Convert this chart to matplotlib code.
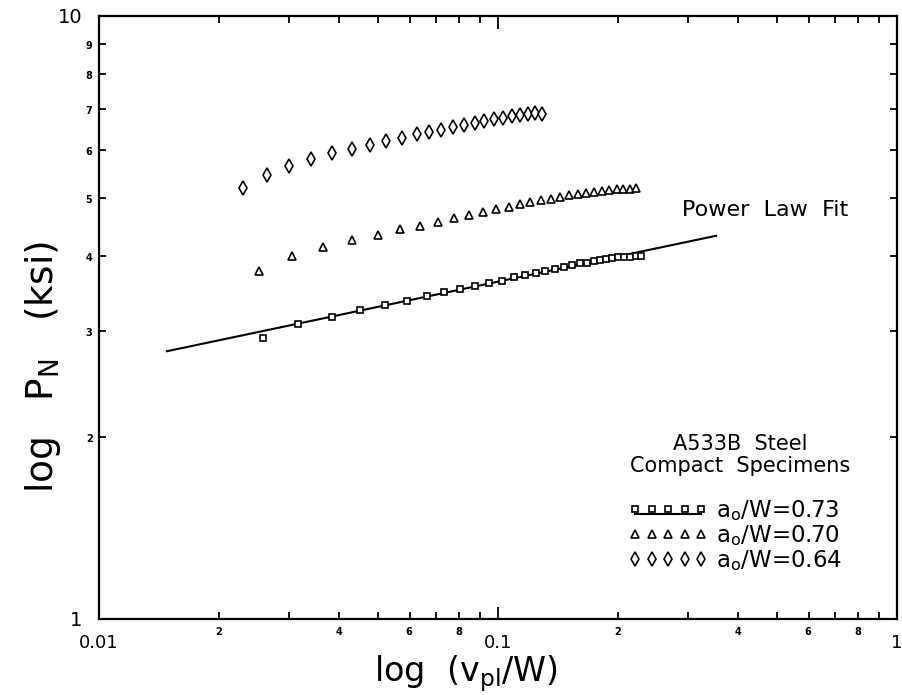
import numpy as np
import matplotlib
matplotlib.use("Agg")
import matplotlib.pyplot as plt
from matplotlib.ticker import LogLocator, FuncFormatter
from matplotlib.lines import Line2D
from matplotlib.legend_handler import HandlerLine2D, HandlerTuple

plt.rcParams['font.family'] = ['DejaVu Sans']
plt.rcParams['mathtext.default'] = 'regular'

# a0/W = 0.73 (squares)
x73 = [0.0257, 0.0315, 0.0383, 0.0452, 0.0522, 0.0591, 0.0664, 0.0733, 0.0804, 0.0877,
       0.0951, 0.1022, 0.1095, 0.1166, 0.1242, 0.1315, 0.1390, 0.1465, 0.1535, 0.1603,
       0.1673, 0.1738, 0.1801, 0.1865, 0.1928, 0.2002, 0.2069, 0.2142, 0.2214, 0.2282]
y73 = [2.92, 3.09, 3.17, 3.25, 3.32, 3.37, 3.43, 3.49, 3.53, 3.57,
       3.61, 3.64, 3.69, 3.72, 3.75, 3.78, 3.81, 3.84, 3.86, 3.89,
       3.90, 3.92, 3.94, 3.95, 3.97, 3.98, 3.98, 3.99, 4.00, 4.00]

# a0/W = 0.70 (triangles)
x70 = [0.0251, 0.0304, 0.0365, 0.0431, 0.0500, 0.0567, 0.0638, 0.0706, 0.0777, 0.0848,
       0.0919, 0.0991, 0.1066, 0.1135, 0.1206, 0.1278, 0.1354, 0.1430, 0.1507, 0.1582,
       0.1657, 0.1735, 0.1819, 0.1901, 0.1984, 0.2061, 0.2142, 0.2212]
y70 = [3.77, 4.00, 4.14, 4.25, 4.34, 4.43, 4.49, 4.55, 4.62, 4.67,
       4.73, 4.79, 4.83, 4.87, 4.92, 4.95, 4.98, 5.01, 5.04, 5.07,
       5.09, 5.11, 5.13, 5.15, 5.16, 5.17, 5.17, 5.18]

# a0/W = 0.64 (diamonds)
x64 = [0.0230, 0.0263, 0.0299, 0.0339, 0.0384, 0.0430, 0.0478, 0.0524, 0.0574, 0.0625,
       0.0672, 0.0721, 0.0773, 0.0822, 0.0874, 0.0924, 0.0977, 0.1027, 0.1082, 0.1135,
       0.1191, 0.1238, 0.1287]
y64 = [5.19, 5.44, 5.63, 5.79, 5.92, 6.02, 6.12, 6.21, 6.28, 6.36,
       6.42, 6.47, 6.54, 6.59, 6.64, 6.69, 6.74, 6.78, 6.83, 6.85,
       6.89, 6.91, 6.88]

# power law fit end points
fit_x = [0.0148, 0.352]
fit_y = [2.78, 4.32]

labels = [r'a$_o$/W=0.73', r'a$_o$/W=0.70', r'a$_o$/W=0.64']

fig = plt.figure(figsize=(9.02, 6.95), dpi=100)
ax = fig.add_axes([0.1098, 0.1094, 0.8847, 0.8676])

ax.plot(fit_x, fit_y, color='black', lw=1.5)
ms = dict(linestyle='none', markerfacecolor='white', markeredgecolor='black', markeredgewidth=1.2)
ax.plot(x73, y73, marker='s', markersize=5, **ms)
ax.plot(x70, y70, marker='^', markersize=5.5, **ms)
ax.plot(x64, y64, marker='d', markersize=7.5, **ms)

ax.set_xscale('log')
ax.set_yscale('log')
ax.set_xlim(0.01, 1)
ax.set_ylim(1, 10)

for s in ax.spines.values():
    s.set_linewidth(1.6)

ax.xaxis.set_major_locator(LogLocator(base=10))
ax.yaxis.set_major_locator(LogLocator(base=10))
ax.xaxis.set_minor_locator(LogLocator(base=10, subs=np.arange(2, 10)))
ax.yaxis.set_minor_locator(LogLocator(base=10, subs=np.arange(2, 10)))


def major_fmt(v, pos):
    return '%g' % v


def minor_fmt_x(v, pos):
    m = int(round(v / 10 ** np.floor(np.log10(v) + 1e-9)))
    return r'$\mathbf{%d}$' % m if m in (2, 4, 6, 8) else ''


def minor_fmt_y(v, pos):
    m = int(round(v / 10 ** np.floor(np.log10(v) + 1e-9)))
    return r'$\mathbf{%d}$' % m


ax.xaxis.set_major_formatter(FuncFormatter(major_fmt))
ax.yaxis.set_major_formatter(FuncFormatter(major_fmt))
ax.xaxis.set_minor_formatter(FuncFormatter(minor_fmt_x))
ax.yaxis.set_minor_formatter(FuncFormatter(minor_fmt_y))

ax.tick_params(which='both', direction='in', top=True, right=True, width=1.3)
ax.tick_params(which='major', length=9, labelsize=14)
ax.tick_params(axis='x', which='major', pad=11, labelsize=13)
ax.tick_params(axis='y', which='major', pad=12)
ax.tick_params(which='minor', length=5, labelsize=7, pad=4)

ax.set_xlabel(r'log  (v$_{pl}$/W)', fontsize=24)
ax.xaxis.set_label_coords(0.46, -0.056)
ax.set_ylabel(r'log   P$_N$   (ksi)', fontsize=27)
ax.yaxis.set_label_coords(-0.045, 0.418)

ax.text(0.7306, 0.678, 'Power  Law  Fit', transform=ax.transAxes, fontsize=16, va='center', ha='left')

ax.text(0.803, 0.272, 'A533B  Steel\nCompact  Specimens', transform=ax.transAxes,
        fontsize=15, ha='center', va='center', multialignment='center', linespacing=1.1)

# legend
sq = Line2D([], [], marker='s', markersize=5, **ms)
ln = Line2D([], [], color='black', lw=1.5)
tri = Line2D([], [], marker='^', markersize=5.5, **ms)
dia = Line2D([], [], marker='d', markersize=7.5, **ms)


class LowLine(HandlerLine2D):
    def create_artists(self, legend, orig_handle, xdescent, ydescent, width, height, fontsize, trans):
        arts = super().create_artists(legend, orig_handle, xdescent, ydescent, width, height, fontsize, trans)
        for a in arts:
            a.set_ydata(np.asarray(a.get_ydata()) - 0.3 * height)
        return arts


leg = ax.legend([(sq, ln), tri, dia], labels,
                handler_map={tuple: HandlerTuple(ndivide=1, pad=0), ln: LowLine()},
                fontsize=16.5, numpoints=5, handlelength=3.5, handletextpad=0.35,
                labelspacing=0.0, frameon=False, loc='center',
                bbox_to_anchor=(0.797, 0.139), borderpad=0.2)

fig.savefig('out.png', dpi=100)
